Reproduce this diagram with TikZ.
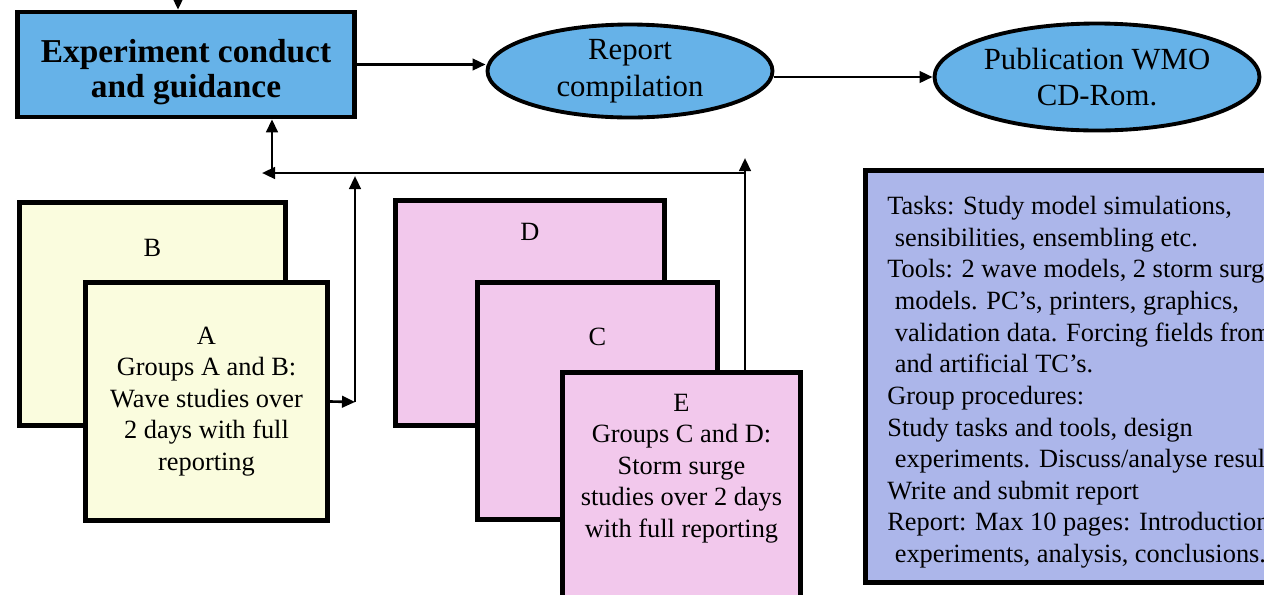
\documentclass[tikz,border=0pt]{standalone}
\usepackage{fontspec}
\setmainfont{Liberation Serif}
\usetikzlibrary{arrows.meta,shapes.geometric}
\definecolor{boxblue}{RGB}{102,178,232}
\definecolor{boxlav}{RGB}{172,182,234}
\definecolor{boxyel}{RGB}{250,252,222}
\definecolor{boxpink}{RGB}{242,200,236}
\begin{document}
\begin{tikzpicture}[every node/.style={inner sep=0, align=center, font=\fontsize{15}{18}\selectfont},
    card/.style={rectangle, draw, line width=2.6pt},
    head/.style={rectangle, draw, line width=2.6pt, fill=boxblue},
    oval/.style={ellipse, draw, line width=2.2pt, fill=boxblue, font=\fontsize{17.5}{21}\selectfont},
    arr/.style={line width=1.5pt, -{Triangle[length=0.26cm,width=0.23cm]}}]
    \useasboundingbox (0,0) rectangle (25.28,-11.88);

    % Riga superiore
    \node (exp) at (3.72,-1.29) [head, minimum width=6.74cm, minimum height=2.1cm] {};
    \node (expt) at (exp.center) [yshift=-0.16cm, font=\bfseries\fontsize{19}{20}\selectfont] {Experiment conduct\\and guidance};
    \node (rep) at (12.6,-1.42) [oval, minimum width=5.7cm, minimum height=1.86cm] {Report\\compilation};
    \node (pub) at (21.94,-1.54) [oval, minimum width=6.5cm, minimum height=2.14cm] {Publication WMO\\CD-Rom.};

    % Gruppi A e B
    \node (B) at (3.05,-6.28) [card, fill=boxyel, minimum width=5.32cm, minimum height=4.46cm] {};
    \node (b) at (B.north) [yshift=-0.96cm] {B};
    \node (A) at (4.13,-8.03) [card, fill=boxyel, minimum width=4.84cm, minimum height=4.76cm] {A\\Groups A and B:\\Wave studies over\\2 days with full\\reporting};

    % Gruppi C, D ed E
    \node (D) at (10.6,-6.26) [card, fill=boxpink, minimum width=5.38cm, minimum height=4.5cm] {};
    \node (d) at (D.north) [yshift=-0.68cm] {D};
    \node (C) at (11.95,-8.02) [card, fill=boxpink, minimum width=4.8cm, minimum height=4.74cm] {};
    \node (c) at (C.north) [yshift=-1.14cm] {C};
    \node (E) at (13.63,-9.7) [card, fill=boxpink, minimum width=4.76cm, minimum height=4.5cm] {};
    \node (e) at (E.center) [yshift=0.33cm] {E\\Groups C and D:\\Storm surge\\studies over 2 days\\with full reporting};

    % Compiti e strumenti
    \node (T) at (21.63,-7.53) [card, fill=boxlav, minimum width=8.64cm, minimum height=8.24cm] {};
    \node (t) at (17.74,-3.92) [anchor=north west, align=left] {Tasks: Study model simulations,\\
        \hspace*{0.15cm}sensibilities, ensembling etc.\\
        Tools: 2 wave models, 2 storm surge\\
        \hspace*{0.15cm}models. PC's, printers, graphics,\\
        \hspace*{0.15cm}validation data. Forcing fields from\\
        \hspace*{0.15cm}and artificial TC's.\\
        Group procedures:\\
        Study tasks and tools, design\\
        \hspace*{0.15cm}experiments. Discuss/analyse results\\
        Write and submit report\\
        Report: Max 10 pages: Introduction,\\
        \hspace*{0.15cm}experiments, analysis, conclusions.};

    % Punti di raccordo
    \coordinate (in) at (3.56,0.1);
    \coordinate (up) at (14.9,-3.16);
    \coordinate (fr) at (14.9,-3.46);
    \coordinate (fl) at (5.24,-3.46);
    \coordinate (fx) at (5.44,-3.46);
    \coordinate (ja) at (7.1,-8.04);
    \coordinate (jt) at (7.1,-3.52);

    % Collegamenti
    \draw[arr] (in) -- (in |- exp.north);
    \draw[arr] (exp.east) -- (exp.east -| rep.west);
    \draw[arr] (rep.east |- pub.west) -- (pub.west);
    \draw[arr] (E.north -| up) -- (up);
    \draw[arr] (fr) -- (fl);
    \draw[arr] (fx) -- (fx |- exp.south);
    \draw[arr] (A.east) -- (ja);
    \draw[arr] (ja) -- (jt);
\end{tikzpicture}
\end{document}
